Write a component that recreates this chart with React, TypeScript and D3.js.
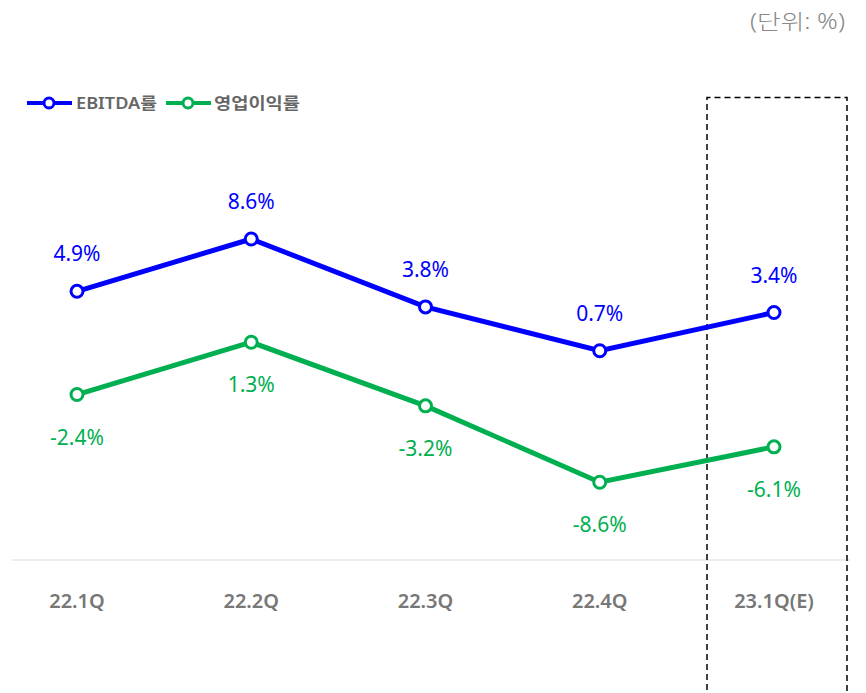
import React from "react";
import * as d3 from "d3";

const categories = ["22.1Q", "22.2Q", "22.3Q", "22.4Q", "23.1Q(E)"];
const ebitdaValues = [4.9, 8.6, 3.8, 0.7, 3.4];
const opValues = [-2.4, 1.3, -3.2, -8.6, -6.1];
const seriesNames = ["EBITDA률", "영업이익률"];
const unitLabel = "(단위: %)";

const W = 866;
const H = 693;
const BLUE = "#0000ff";
const GREEN = "#00b050";
const FONT = "'Noto Sans', 'Noto Sans CJK KR', sans-serif";

export default function App() {
  const x = d3.scalePoint<string>().domain(categories).range([77, 774]);
  const y = d3.scaleLinear().domain([-14.1, 8.6]).range([560, 239]);
  const line = d3
    .line<number>()
    .x((_, i) => x(categories[i]) as number)
    .y((d) => y(d));

  const series = [
    { name: seriesNames[0], values: ebitdaValues, color: BLUE, above: true },
    { name: seriesNames[1], values: opValues, color: GREEN, above: false },
  ];

  return (
    <svg
      width={W}
      height={H}
      style={{ position: "absolute", left: 0, top: 0, background: "#fff" }}
      fontFamily={FONT}
    >
      <text x={750} y={29} fontSize={21} fontWeight={300} fill="#888" textLength={95} lengthAdjust="spacingAndGlyphs">
        {unitLabel}
      </text>

      {/* legend */}
      <g>
        <line x1={27} x2={72} y1={103} y2={103} stroke={BLUE} strokeWidth={4} />
        <circle cx={49} cy={103} r={5} fill="#fff" stroke={BLUE} strokeWidth={3} />
        <text x={76} y={109} fontSize={16} fill="#666" fontWeight={600} textLength={81} lengthAdjust="spacingAndGlyphs">
          {seriesNames[0]}
        </text>
        <line x1={166} x2={211} y1={103} y2={103} stroke={GREEN} strokeWidth={4} />
        <circle cx={188} cy={103} r={5} fill="#fff" stroke={GREEN} strokeWidth={3} />
        <text x={214} y={109} fontSize={16} fill="#666" fontWeight={600} textLength={86} lengthAdjust="spacingAndGlyphs">
          {seriesNames[1]}
        </text>
      </g>

      {/* axis line */}
      <line x1={12} x2={850} y1={560} y2={560} stroke="#d9d9d9" strokeWidth={1} />

      {categories.map((c) => (
        <text
          key={c}
          x={x(c)}
          y={608}
          textAnchor="middle"
          fontSize={20}
          fontWeight={600}
          fill="#777"
        >
          {c}
        </text>
      ))}

      {/* dashed highlight box */}
      <path
        d="M707,700 L707,97.5 L847,97.5 L847,700"
        fill="none"
        stroke="#000"
        strokeWidth={1.5}
        strokeDasharray="6,4"
      />

      {series.map((s) => (
        <g key={s.name}>
          <path d={line(s.values) || ""} fill="none" stroke={s.color} strokeWidth={5} />
          {s.values.map((v, i) => (
            <circle
              key={i}
              cx={x(categories[i])}
              cy={y(v)}
              r={6}
              fill="#fff"
              stroke={s.color}
              strokeWidth={3}
            />
          ))}
          {s.values.map((v, i) => (
            <text
              key={"t" + i}
              x={x(categories[i])}
              y={s.above ? y(v) - 30 : y(v) + 50}
              textAnchor="middle"
              fontSize={21}
              fill={s.color}
            >
              {v.toFixed(1) + "%"}
            </text>
          ))}
        </g>
      ))}
    </svg>
  );
}
